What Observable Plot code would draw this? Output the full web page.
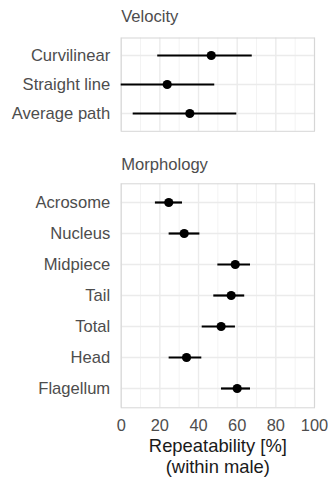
<!DOCTYPE html>
<html>
<head>
<meta charset="utf-8">
<script src="https://cdn.jsdelivr.net/npm/d3@7"></script>
<script src="https://cdn.jsdelivr.net/npm/@observablehq/plot@0.6"></script>
<style>
  body { margin: 0; background: #fff; }
  #chart { position: relative; width: 328px; height: 477px; font-family: "Liberation Sans", Arial, sans-serif; }
  #chart svg { position: absolute; left: 0; overflow: visible; }
</style>
</head>
<body>
<div id="chart"></div>
<script>
// Repeatability estimates (%) with interval bounds, by trait group
const velocityTraits = ["Curvilinear", "Straight line", "Average path"];
const velocityEstimate = [46.6, 23.8, 35.5];
const velocityLower = [18.9, 0, 6.2];
const velocityUpper = [67.8, 48.4, 59.8];

const morphologyTraits = ["Acrosome", "Nucleus", "Midpiece", "Tail", "Total", "Head", "Flagellum"];
const morphologyEstimate = [24.6, 32.6, 59.0, 56.9, 51.7, 33.8, 60.0];
const morphologyLower = [17.7, 24.8, 50.0, 47.9, 41.9, 24.8, 51.9];
const morphologyUpper = [31.7, 40.7, 66.9, 63.9, 59.1, 41.7, 66.9];

const majorTicks = [0, 20, 40, 60, 80, 100];
const minorTicks = [10, 30, 50, 70, 90];
const axisTitle = "Repeatability [%]\n(within male)";

const chart = document.getElementById("chart");

function panel(title, traits, est, lo, hi, opts) {
  const rows = traits.map((t, i) => ({trait: t, est: est[i], lo: lo[i], hi: hi[i]}));
  const svg = Plot.plot({
    width: 328,
    height: opts.height,
    marginLeft: 120.7,
    marginRight: 14,
    marginTop: opts.marginTop,
    marginBottom: opts.marginBottom,
    style: {fontFamily: "'Liberation Sans', Arial, sans-serif", fontSize: "16px", color: "#4d4d4d", background: "transparent"},
    x: {domain: [0, 100], axis: opts.showX ? undefined : null},
    y: {type: "point", domain: traits, padding: 0.6},
    marks: [
      Plot.ruleX(minorTicks, {stroke: "#f3f3f3", strokeWidth: 1}),
      Plot.ruleX(majorTicks, {stroke: "#ebebeb", strokeWidth: 1.4}),
      Plot.ruleY(traits, {stroke: "#ebebeb", strokeWidth: 1.4}),
      Plot.frame({stroke: "#d6d6d6", strokeWidth: 1}),
      Plot.ruleY(rows, {y: "trait", x1: "lo", x2: "hi", stroke: "black", strokeWidth: 2.2}),
      Plot.dot(rows, {y: "trait", x: "est", r: 4.6, fill: "black", stroke: null}),
      Plot.text([title], {frameAnchor: "top-left", textAnchor: "start", lineAnchor: "top", dy: opts.titleDy, fontSize: 16.6, fill: "#4d4d4d"}),
      Plot.axisY({tickSize: 0, tickPadding: 11, label: null, fontSize: 16.6}),
      opts.showX ? Plot.axisX({ticks: majorTicks, tickSize: 0, tickPadding: 12, label: null, fontSize: 16.4}) : null,
      opts.showX ? Plot.text([axisTitle], {frameAnchor: "bottom", lineAnchor: "top", dy: 29.4, fontSize: 18.4, lineHeight: 1.14, fill: "#1a1a1a"}) : null
    ]
  });
  svg.style.top = opts.top + "px";
  chart.appendChild(svg);
}

panel("Velocity", velocityTraits, velocityEstimate, velocityLower, velocityUpper,
  {top: 0, height: 135, marginTop: 37.5, marginBottom: 4.2, titleDy: -27.4, showX: false});
panel("Morphology", morphologyTraits, morphologyEstimate, morphologyLower, morphologyUpper,
  {top: 140, height: 337, marginTop: 43.3, marginBottom: 69.7, titleDy: -25.9, showX: true});
</script>
</body>
</html>
